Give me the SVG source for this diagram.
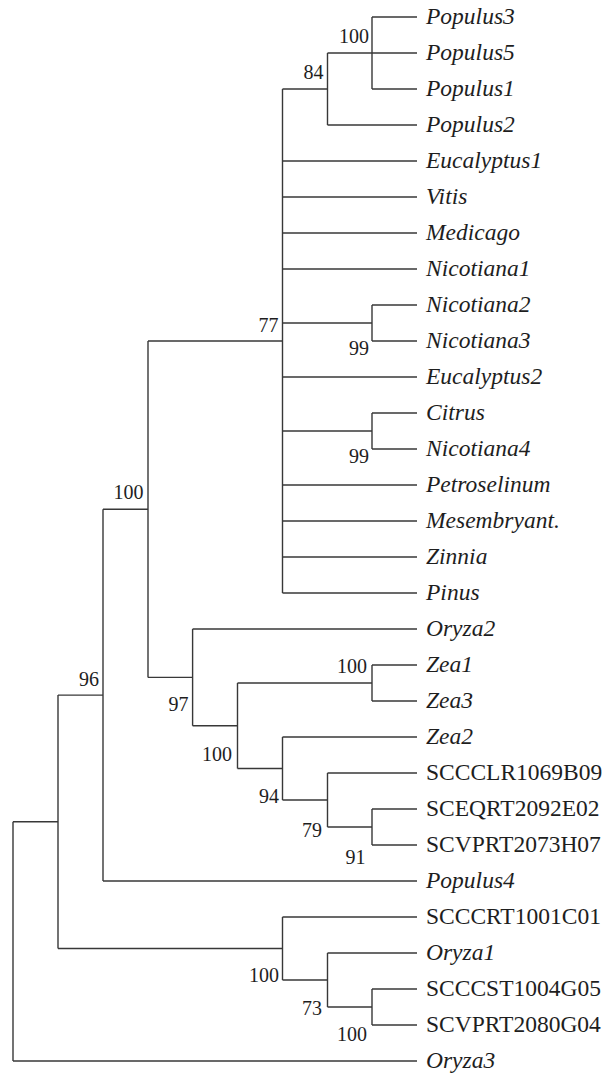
<svg xmlns="http://www.w3.org/2000/svg" width="614" height="1074" viewBox="0 0 614 1074">
<style>
.e{fill:none;stroke:#383838;stroke-width:1.4}
.l{font-family:"Liberation Serif","Times New Roman",serif;font-size:23.5px;fill:#1e1e1e}
.i{font-style:italic}
.b{font-family:"Liberation Serif","Times New Roman",serif;font-size:20px;fill:#1e1e1e;text-anchor:end}
</style>
<rect width="614" height="1074" fill="#fff"/>
<g id="connectors">
<path class="e" d="M372,17V89M372,17H417M327.5,53H417M372,89H417"/>
<path class="e" d="M327.5,53V125M327.5,125H417M282.5,89H327.5"/>
<path class="e" d="M282.5,89V593M148,341H282.5M282.5,161H417M282.5,197H417M282.5,233H417M282.5,269H417M282.5,377H417M282.5,485H417M282.5,521H417M282.5,557H417M282.5,593H417"/>
<path class="e" d="M282.5,323H372M372,305V341M372,305H417M372,341H417"/>
<path class="e" d="M282.5,431H372M372,413V449M372,413H417M372,449H417"/>
<path class="e" d="M148,341V677.4M103,509.2H148"/>
<path class="e" d="M148,677.4H192.6M192.6,629V725.75M192.6,629H417"/>
<path class="e" d="M192.6,725.75H237.5M237.5,683V768.5"/>
<path class="e" d="M237.5,683H372M372,665V701M372,665H417M372,701H417"/>
<path class="e" d="M237.5,768.5H282.5M282.5,737V800M282.5,737H417"/>
<path class="e" d="M282.5,800H327.5M327.5,773V827M327.5,773H417"/>
<path class="e" d="M327.5,827H372M372,809V845M372,809H417M372,845H417"/>
<path class="e" d="M58,695.1H103M103,509.2V881M103,881H417"/>
<path class="e" d="M58,948.5H282.5M282.5,917V980M282.5,917H417"/>
<path class="e" d="M282.5,980H327.5M327.5,953V1007M327.5,953H417"/>
<path class="e" d="M327.5,1007H372M372,989V1025M372,989H417M372,1025H417"/>
<path class="e" d="M13,821.8H58M58,695.1V948.5"/>
<path class="e" d="M13,821.8V1061M13,1061H417"/>
</g>
<g id="leaf-populus3"><text class="l i" x="426" y="24">Populus3</text></g>
<g id="leaf-populus5"><text class="l i" x="426" y="60">Populus5</text></g>
<g id="leaf-populus1"><text class="l i" x="426" y="96">Populus1</text></g>
<g id="leaf-populus2"><text class="l i" x="426" y="132">Populus2</text></g>
<g id="leaf-eucalyptus1"><text class="l i" x="426" y="168">Eucalyptus1</text></g>
<g id="leaf-vitis"><text class="l i" x="426" y="204">Vitis</text></g>
<g id="leaf-medicago"><text class="l i" x="426" y="240">Medicago</text></g>
<g id="leaf-nicotiana1"><text class="l i" x="426" y="276">Nicotiana1</text></g>
<g id="leaf-nicotiana2"><text class="l i" x="426" y="312">Nicotiana2</text></g>
<g id="leaf-nicotiana3"><text class="l i" x="426" y="348">Nicotiana3</text></g>
<g id="leaf-eucalyptus2"><text class="l i" x="426" y="384">Eucalyptus2</text></g>
<g id="leaf-citrus"><text class="l i" x="426" y="420">Citrus</text></g>
<g id="leaf-nicotiana4"><text class="l i" x="426" y="456">Nicotiana4</text></g>
<g id="leaf-petroselinum"><text class="l i" x="426" y="492">Petroselinum</text></g>
<g id="leaf-mesembryant"><text class="l i" x="426" y="528">Mesembryant.</text></g>
<g id="leaf-zinnia"><text class="l i" x="426" y="564">Zinnia</text></g>
<g id="leaf-pinus"><text class="l i" x="426" y="600">Pinus</text></g>
<g id="leaf-oryza2"><text class="l i" x="426" y="636">Oryza2</text></g>
<g id="leaf-zea1"><text class="l i" x="426" y="672">Zea1</text></g>
<g id="leaf-zea3"><text class="l i" x="426" y="708">Zea3</text></g>
<g id="leaf-zea2"><text class="l i" x="426" y="744">Zea2</text></g>
<g id="leaf-scccl"><text class="l" x="426" y="780">SCCCLR1069B09</text></g>
<g id="leaf-sceqrt"><text class="l" x="426" y="816">SCEQRT2092E02</text></g>
<g id="leaf-scvprt2073"><text class="l" x="426" y="852">SCVPRT2073H07</text></g>
<g id="leaf-populus4"><text class="l i" x="426" y="888">Populus4</text></g>
<g id="leaf-scccrt"><text class="l" x="426" y="924">SCCCRT1001C01</text></g>
<g id="leaf-oryza1"><text class="l i" x="426" y="960">Oryza1</text></g>
<g id="leaf-scccst"><text class="l" x="426" y="996">SCCCST1004G05</text></g>
<g id="leaf-scvprt2080"><text class="l" x="426" y="1032">SCVPRT2080G04</text></g>
<g id="leaf-oryza3"><text class="l i" x="426" y="1068">Oryza3</text></g>
<g id="node-populus-100"><text class="b" x="369" y="43">100</text></g>
<g id="node-84"><text class="b" x="323.5" y="79">84</text></g>
<g id="node-77"><text class="b" x="278.5" y="332">77</text></g>
<g id="node-nicotiana-99"><text class="b" x="369" y="355">99</text></g>
<g id="node-citrus-99"><text class="b" x="369" y="463">99</text></g>
<g id="node-dicot-100"><text class="b" x="143.5" y="499">100</text></g>
<g id="node-96"><text class="b" x="99" y="686">96</text></g>
<g id="node-97"><text class="b" x="188.5" y="711">97</text></g>
<g id="node-zea-100"><text class="b" x="232" y="761">100</text></g>
<g id="node-zea13-100"><text class="b" x="367" y="673">100</text></g>
<g id="node-94"><text class="b" x="279" y="803">94</text></g>
<g id="node-79"><text class="b" x="322" y="836.5">79</text></g>
<g id="node-91"><text class="b" x="365.5" y="864">91</text></g>
<g id="node-scccrt-100"><text class="b" x="279" y="982">100</text></g>
<g id="node-73"><text class="b" x="322" y="1015">73</text></g>
<g id="node-scccst-100"><text class="b" x="367" y="1041">100</text></g>
<g id="node-a"></g>
<g id="node-root"></g>
</svg>
